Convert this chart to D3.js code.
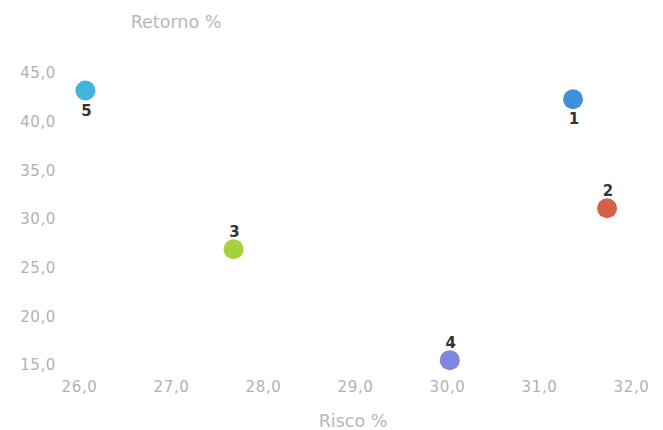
<!DOCTYPE html>
<html><head><meta charset="utf-8">
<script src="https://cdn.jsdelivr.net/npm/d3@7"></script>
<style>body{margin:0;background:#fff;} text{font-family:"DejaVu Sans",sans-serif;}</style>
</head><body><svg id="c" width="663" height="430"></svg>
<script>
const labels = ["1","2","3","4","5"];
const risco = [31.37, 31.74, 27.68, 30.03, 26.07];
const retorno = [42.3, 31.1, 26.9, 15.5, 43.2];
const colors = ["#3e90d8","#d7604b","#a6d13c","#7f86df","#42b5dd"];
const labelPos = ["below","above","above","above","below"];
const xTicks = [26,27,28,29,30,31,32];
const yTicks = [15,20,25,30,35,40,45];

const svg = d3.select("#c");
const x = d3.scaleLinear().domain([26,32]).range([79,631]);
const y = d3.scaleLinear().domain([15,45]).range([365,73]);
const fmt = d => d3.format(".1f")(d).replace(".", ",");

const xa = svg.append("g").attr("transform","translate(0,387)")
  .call(d3.axisBottom(x).tickValues(xTicks).tickFormat(fmt).tickSize(0).tickPadding(0));
xa.select(".domain").remove();
xa.selectAll("text").attr("fill","#b2b2b2").attr("font-size",15).attr("letter-spacing",0.6).attr("dy","0.35em");

const ya = svg.append("g").attr("transform","translate(56,0)")
  .call(d3.axisLeft(y).tickValues(yTicks).tickFormat(fmt).tickSize(0).tickPadding(0));
ya.select(".domain").remove();
ya.selectAll("text").attr("fill","#b2b2b2").attr("font-size",15).attr("letter-spacing",0.6);

svg.append("text").attr("x",176).attr("y",28).attr("text-anchor","middle")
  .attr("fill","#b0b9bf").attr("font-size",17.5).text("Retorno %");
svg.append("text").attr("x",353).attr("y",427).attr("text-anchor","middle")
  .attr("fill","#b0b9bf").attr("font-size",17.5).text("Risco %");

const idx = d3.range(labels.length);
svg.append("g").selectAll("circle").data(idx).join("circle")
  .attr("cx",i=>x(risco[i])).attr("cy",i=>y(retorno[i])).attr("r",10)
  .attr("fill",i=>colors[i]);
svg.append("g").selectAll("text").data(idx).join("text")
  .attr("x",i=>x(risco[i])+1)
  .attr("y",i=>y(retorno[i]) + (labelPos[i]==="below"?25:-12))
  .attr("text-anchor","middle").attr("font-size",15).attr("font-weight","bold")
  .attr("fill","#333").text(i=>labels[i]);
</script></body></html>
